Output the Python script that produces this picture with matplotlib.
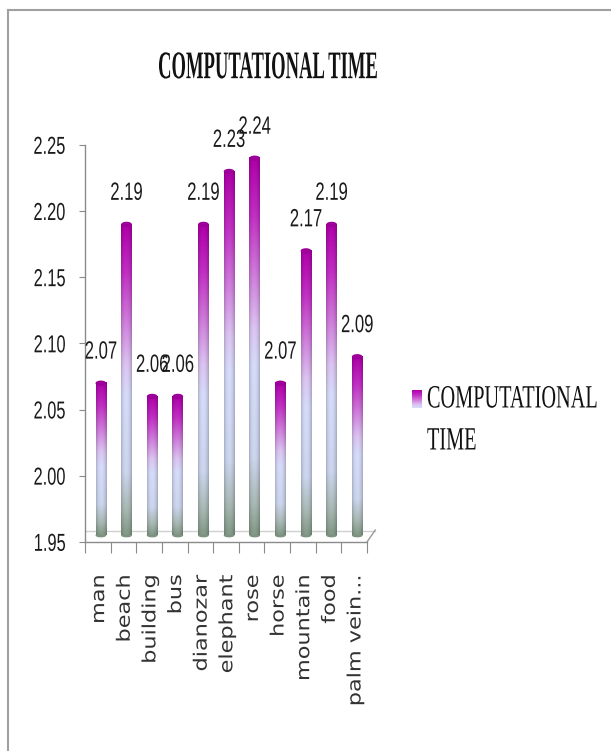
import numpy as np
import matplotlib
matplotlib.use("Agg")
import matplotlib.pyplot as plt
from matplotlib.patches import Ellipse
from matplotlib.lines import Line2D
from matplotlib.patheffects import AbstractPathEffect
from matplotlib.transforms import Affine2D
from matplotlib.colors import LinearSegmentedColormap

# data
categories = ["man", "beach", "building", "bus", "dianozar", "elephant",
              "rose", "horse", "mountain", "food", "palm vein..."]
comp_time = [2.07, 2.19, 2.06, 2.06, 2.19, 2.23, 2.24, 2.07, 2.17, 2.19, 2.09]
y_ticks = [1.95, 2.00, 2.05, 2.10, 2.15, 2.20, 2.25]
series_name = "COMPUTATIONAL TIME"

W, H = 611, 751


class Stretch(AbstractPathEffect):
    """Scale glyph outlines in display space (tall, narrow lettering)."""

    def __init__(self, sx=1.0, sy=1.0, anchor="center"):
        super().__init__()
        self.sx, self.sy, self.anchor = sx, sy, anchor

    def draw_path(self, renderer, gc, tpath, affine, rgbFace=None):
        ext = tpath.get_extents(affine)
        cx = (ext.x0 + ext.x1) / 2
        cy = ext.y1 if self.anchor == "top" else (ext.y0 + ext.y1) / 2
        t = affine + Affine2D().translate(-cx, -cy).scale(self.sx, self.sy).translate(cx, cy)
        renderer.draw_path(gc, tpath, t, rgbFace)


def fx(px):
    return px / W


def fy(py):
    return 1 - py / H


# gradient used for the cylinders (bottom -> top)
bar_cmap = LinearSegmentedColormap.from_list("bar", [
    (0.00, "#849a88"),
    (0.08, "#a9b9b4"),
    (0.20, "#ccd6ee"),
    (0.45, "#d6dcfa"),
    (0.55, "#dcc4f2"),
    (0.70, "#cf78da"),
    (0.85, "#c22ec4"),
    (1.00, "#b000aa"),
])

fig = plt.figure(figsize=(W / 100, H / 100), dpi=100)
fig.patch.set_facecolor("white")

ax = fig.add_axes([fx(85), fy(542), fx(367) - fx(85), fy(145) - fy(542)])
ax.set_facecolor("none")

base = 1.955
bw = 0.42
shift = 0.62
cols = np.linspace(0, 1, 24)
shade = 0.80 + 0.20 * np.sin(np.pi * np.clip(cols * 1.05, 0, 1)) ** 0.6
rows = np.linspace(1, 0, 200)
grad = bar_cmap(rows)[:, :3]
img = np.clip(grad[:, None, :] * shade[None, :, None], 0, 1)

for i, v in enumerate(comp_time):
    xc = i + shift
    ax.imshow(img, extent=[xc - bw / 2, xc + bw / 2, base, v], aspect="auto",
              interpolation="bilinear", zorder=3)
    ax.add_patch(Ellipse((xc, v), bw, 0.004, color="#9c0098", zorder=4, lw=0))
    ax.add_patch(Ellipse((xc, base), bw, 0.003, color="#7e927f", zorder=2, lw=0))
    ax.annotate(f"{v:.2f}", (xc, v), xytext=(0, 23), textcoords="offset points",
                ha="center", va="center", fontsize=12, family="Liberation Sans",
                color="#1a1a1a", zorder=6, path_effects=[Stretch(sy=1.5)])

# floor of the 3d plot
n = len(categories)
ax.plot([0, n + 0.3], [1.9585, 1.9585], color="#d0d0d0", lw=1.0, clip_on=False, zorder=1)
ax.plot([n, n + 0.32], [1.95, 1.959], color="#9a9a9a", lw=1.0, clip_on=False, zorder=1)

ax.set_xlim(0, n)
ax.set_ylim(1.95, 2.25)
ax.set_yticks(y_ticks)
ax.set_yticklabels([f"{t:.2f}" for t in y_ticks], family="Liberation Sans",
                   fontsize=11.8, color="#1a1a1a")
for lbl in ax.get_yticklabels():
    lbl.set_path_effects([Stretch(sy=1.5)])
ax.tick_params(axis="y", length=4, width=0.8, color="#8a8a8a", pad=10)

ax.set_xticks(np.arange(n + 1))
ax.set_xticklabels([])
ax.tick_params(axis="x", which="major", length=8, width=0.8, color="#8a8a8a", direction="out")
ax.set_xticks(np.arange(n) + 0.55, minor=True)
ax.set_xticklabels(categories, minor=True, rotation=90, ha="center", va="top",
                   family="DejaVu Sans", fontsize=13.2, color="#333333")
ax.tick_params(axis="x", which="minor", length=0, pad=23.5)
for lbl in ax.get_xticklabels(minor=True):
    lbl.set_path_effects([Stretch(sy=1.22, anchor="top")])

for s in ("top", "right"):
    ax.spines[s].set_visible(False)
for s in ("left", "bottom"):
    ax.spines[s].set_color("#8a8a8a")
    ax.spines[s].set_linewidth(1.0)

# title
fig.text(fx(268), fy(67), series_name, ha="center", va="center",
         family="Liberation Serif", weight="bold", fontsize=13.4, color="#111111",
         path_effects=[Stretch(sy=2.1)])

# legend
key = np.clip(bar_cmap(np.linspace(1, 0.45, 40))[:, :3], 0, 1)
lax = fig.add_axes([fx(412), fy(408), fx(422) - fx(412), fy(390) - fy(408)])
lax.imshow(key[:, None, :], aspect="auto", interpolation="bilinear")
lax.axis("off")
words = series_name.split(" ")
fig.text(fx(427), fy(399), words[0], ha="left", va="center",
         family="Liberation Serif", fontsize=14.6, color="#111111",
         path_effects=[Stretch(sy=1.6)])
fig.text(fx(427), fy(441), words[1], ha="left", va="center",
         family="Liberation Serif", fontsize=14.6, color="#111111",
         path_effects=[Stretch(sy=1.6)])

# outer frame
fig.add_artist(Line2D([fx(8), 1], [fy(10), fy(10)], color="#a0a0a0", lw=1.5))
fig.add_artist(Line2D([fx(8), fx(8)], [fy(10), 0], color="#a0a0a0", lw=1.5))

fig.savefig("out.png", dpi=100)
